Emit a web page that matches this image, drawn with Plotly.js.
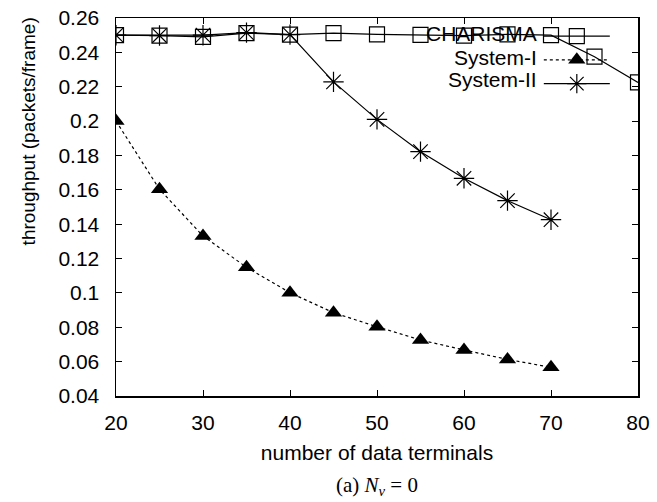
<!DOCTYPE html>
<html><head><meta charset="utf-8">
<script src="https://cdn.plot.ly/plotly-3.0.1.min.js"></script>
<style>html,body{margin:0;padding:0;background:#fff}</style>
</head><body>
<div id="chart" style="width:657px;height:502px"></div>
<script>
// ---- data ----
const seriesNames = ["CHARISMA", "System-I", "System-II"];
const xCharisma = [20, 25, 30, 35, 40, 45, 50, 55, 60, 65, 70, 75, 80];
const charisma  = [0.2500, 0.2498, 0.2490, 0.2512, 0.2503, 0.2512, 0.2505, 0.2502, 0.2498, 0.2505, 0.2500, 0.2375, 0.2225];
const xSystem   = [20, 25, 30, 35, 40, 45, 50, 55, 60, 65, 70];
const system1   = [0.2000, 0.1603, 0.1331, 0.1149, 0.1001, 0.0885, 0.0803, 0.0726, 0.0668, 0.0613, 0.0567];
const system2   = [0.2500, 0.2498, 0.2500, 0.2515, 0.2503, 0.2228, 0.2010, 0.1822, 0.1667, 0.1537, 0.1426];
const xTicks    = [20, 30, 40, 50, 60, 70, 80];
const yTicks    = [0.04, 0.06, 0.08, 0.1, 0.12, 0.14, 0.16, 0.18, 0.2, 0.22, 0.24, 0.26];
const yTickText = ["0.04", "0.06", "0.08", "0.1", "0.12", "0.14", "0.16", "0.18", "0.2", "0.22", "0.24", "0.26"];
const xTitle = "number of data terminals";
const yTitle = "throughput (packets/frame)";
const caption = "(a) <i>N</i><sub><i>v</i></sub> = 0";

const FONT = "Liberation Sans, Arial, Helvetica, sans-serif";
const FS = 21;

const traces = [
  {x: xCharisma, y: charisma, name: "", mode: "lines+markers", type: "scatter",
   line: {color: "#000", width: 1.2},
   marker: {symbol: "square-open", size: 15, color: "#000", line: {width: 1.2, color: "#000"}}},
  {x: xSystem, y: system1, name: "", mode: "lines+markers", type: "scatter",
   line: {color: "#000", width: 1.2, dash: "dot"},
   marker: {symbol: "triangle-up", size: 15, color: "#000"}},
  {x: xSystem, y: system2, name: "", mode: "lines+markers", type: "scatter",
   line: {color: "#000", width: 1.2},
   marker: {symbol: "asterisk-open", size: 17, color: "#000", line: {width: 1.2, color: "#000"}}}
];

const legendRows = [0.958, 0.896, 0.836];
const annotations = seriesNames.map((n, i) => ({
  text: n, xref: "paper", yref: "paper", x: 0.8095, y: legendRows[i],
  xanchor: "right", yanchor: "middle", showarrow: false,
  font: {family: FONT, size: FS, color: "#000"}
}));
annotations.push({
  text: yTitle, xref: "paper", yref: "paper", x: -0.1686, y: 0.70,
  xanchor: "center", yanchor: "middle", showarrow: false, textangle: -90,
  font: {family: FONT, size: 19, color: "#000"}
});
annotations.push({
  text: caption, xref: "paper", yref: "paper", x: 0.5, y: -0.238,
  xanchor: "center", yanchor: "middle", showarrow: false,
  font: {family: "Liberation Serif, Times New Roman, serif", size: 21, color: "#000"}
});

const axisCommon = {
  showgrid: false, zeroline: false, showline: true, linecolor: "#000", linewidth: 1.5,
  mirror: "ticks", ticks: "inside", ticklen: 6, tickwidth: 1, tickcolor: "#000",
  tickfont: {family: FONT, size: FS, color: "#000"}
};

const layout = {
  width: 657, height: 502,
  margin: {l: 116, r: 19, t: 18, b: 106},
  paper_bgcolor: "#fff", plot_bgcolor: "#fff",
  font: {family: FONT, size: FS, color: "#000"},
  showlegend: true,
  legend: {x: 0.81, y: 0.997, xanchor: "left", yanchor: "top", bgcolor: "rgba(0,0,0,0)",
           borderwidth: 0, font: {family: FONT, size: 16}, itemwidth: 66, tracegroupgap: 0},
  xaxis: Object.assign({}, axisCommon, {
    range: [20, 80], tickmode: "array", tickvals: xTicks, ticktext: xTicks.map(String),
    ticklabelstandoff: 7,
    title: {text: xTitle, font: {family: FONT, size: FS, color: "#000"}, standoff: 12}
  }),
  yaxis: Object.assign({}, axisCommon, {
    range: [0.04, 0.26], tickmode: "array", tickvals: yTicks, ticktext: yTickText,
    ticklabelstandoff: 11
  }),
  annotations: annotations
};

Plotly.newPlot("chart", traces, layout, {staticPlot: true, displayModeBar: false});
</script>
</body></html>
